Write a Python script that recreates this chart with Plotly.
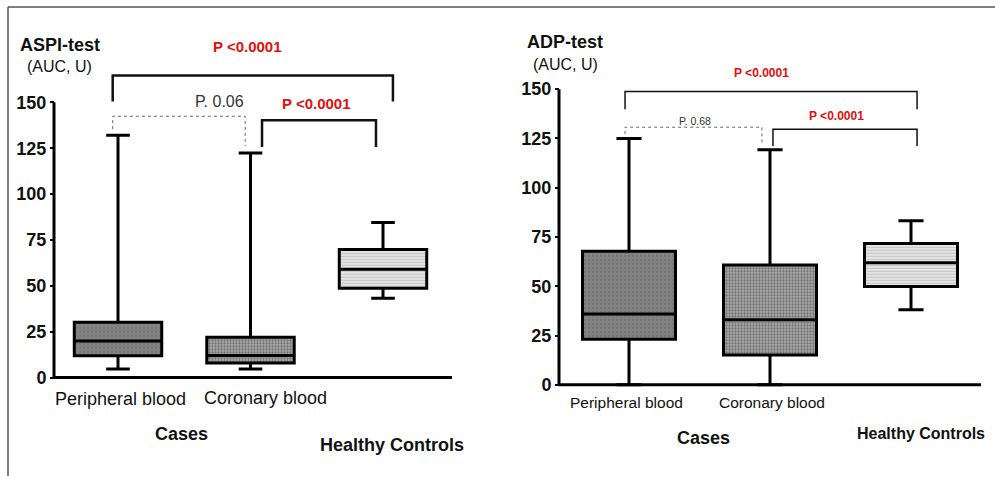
import plotly.graph_objects as go

W, H = 995, 479
FONT = "Liberation Sans, Arial, sans-serif"

# ---------------- data ----------------
groups = ["Peripheral blood", "Coronary blood", "Healthy Controls"]
xpos = [0, 1, 2]

aspi_lower = [4.7, 4.7, 43.3]
aspi_q1 = [11.9, 8.0, 48.7]
aspi_median = [19.9, 12.0, 59.0]
aspi_q3 = [30.2, 22.0, 69.8]
aspi_upper = [132.0, 122.4, 84.5]

adp_lower = [0.0, 0.0, 38.1]
adp_q1 = [23.2, 15.1, 49.9]
adp_median = [36.0, 33.0, 62.0]
adp_q3 = [67.8, 60.8, 71.7]
adp_upper = [125.0, 119.3, 83.2]

y_ticks = [0, 25, 50, 75, 100, 125, 150]

# comparison labels (text, x, y) and brackets (x_start, x_end, y_top, y_left_end, y_right_end)
aspi_pvals = [("P <0.0001", 0.974, 180.3, "red"), ("P. 0.06", 0.766, 150.5, "gray"),
              ("P <0.0001", 1.498, 149.4, "red")]
aspi_brackets = [(-0.04, 2.075, 164.6, 150.5, 150.5, "solid"),
                 (-0.04, 0.96, 142.4, 135.4, 126.2, "dot"),
                 (1.087, 1.947, 140.2, 125.6, 125.6, "solid")]
adp_pvals = [("P <0.0001", 0.943, 158.4, "red"), ("P. 0.68", 0.465, 133.7, "gray"),
             ("P <0.0001", 1.475, 136.3, "red")]
adp_brackets = [(-0.028, 2.043, 148.8, 139.8, 139.8, "solid"),
                (-0.028, 0.943, 130.7, 127.2, 122.1, "dot"),
                (1.021, 2.043, 129.7, 121.1, 121.1, "solid")]

# ---------------- layout geometry (pixels) ----------------
panels = [
    dict(cx0=118, step=132.5, y0=380, k=1.847, spine=54, end=452, area=(46, 460, 30, 388),
         xa="x", ya="y", lw=2.5, plw=1.0, pfs=15, gfs=16),
    dict(cx0=629, step=141, y0=387.3, k=1.984, spine=559, end=981, area=(551, 989, 30, 395),
         xa="x2", ya="y2", lw=1.5, plw=1.0, pfs=12, gfs=10.5),
]


def px2x(p, v):
    return (v - p["cx0"]) / p["step"]


def px2y(p, v):
    return (p["y0"] - v) / p["k"]


fig = go.Figure()

# box fill styles per group
fill_colors = ["#838383", "#b4b4b4", "#e4e4e4"]
pat_fg = ["#6a6a6a", "#2e2e2e", "#a4a4a4"]
pat_shape = [".", ".", "-"]
pat_size = [4, 3, 3]
pat_sol = [0.3, 0.5, 0.35]

datasets = [
    (aspi_lower, aspi_q1, aspi_median, aspi_q3, aspi_upper),
    (adp_lower, adp_q1, adp_median, adp_q3, adp_upper),
]

for p, (lo, q1, med, q3, up) in zip(panels, datasets):
    for g in range(3):
        fig.add_trace(go.Bar(
            x=[xpos[g]], y=[q3[g] - q1[g]], base=[q1[g]], width=0.66,
            xaxis=p["xa"], yaxis=p["ya"], hoverinfo="skip",
            marker=dict(color=fill_colors[g], line=dict(width=0),
                        pattern=dict(shape=pat_shape[g], fgcolor=pat_fg[g],
                                     size=pat_size[g], solidity=pat_sol[g],
                                     fillmode="overlay")),
        ))
    fig.add_trace(go.Box(
        x=xpos, q1=q1, median=med, q3=q3, lowerfence=lo, upperfence=up,
        width=0.66, whiskerwidth=0.27, boxpoints=False,
        fillcolor="rgba(0,0,0,0)", line=dict(color="black", width=3),
        xaxis=p["xa"], yaxis=p["ya"], hoverinfo="skip",
    ))

layout_axes = {}
for i, p in enumerate(panels):
    l, r, t, b = p["area"]
    xname = "xaxis" if i == 0 else "xaxis2"
    yname = "yaxis" if i == 0 else "yaxis2"
    layout_axes[xname] = dict(
        domain=[l / W, r / W], range=[px2x(p, l), px2x(p, r)], anchor=p["ya"],
        showgrid=False, zeroline=False, showline=False, showticklabels=False, ticks="",
        fixedrange=True,
    )
    layout_axes[yname] = dict(
        domain=[1 - b / H, 1 - t / H], range=[px2y(p, b), px2y(p, t)],
        anchor="free", position=p["spine"] / W,
        showgrid=False, zeroline=False, showline=False,
        tickmode="array", tickvals=y_ticks, ticks="outside", ticklen=4, tickwidth=2,
        tickcolor="black",
        tickfont=dict(family=FONT, size=18, color="#111", weight="bold"), fixedrange=True,
    )
    # spines
    xs = px2x(p, p["spine"])
    xe = px2x(p, p["end"])
    fig.add_shape(type="line", xref=p["xa"], yref=p["ya"], x0=xs, x1=xs, y0=0, y1=150,
                  line=dict(color="black", width=3))
    fig.add_shape(type="line", xref=p["xa"], yref=p["ya"], x0=xs, x1=xe, y0=0, y1=0,
                  line=dict(color="black", width=3))

for p, brs, pvs in [(panels[0], aspi_brackets, aspi_pvals), (panels[1], adp_brackets, adp_pvals)]:
    for (x0, x1, yt, yl, yr, dash) in brs:
        path = f"M {x0},{yl} L {x0},{yt} L {x1},{yt} L {x1},{yr}"
        if dash == "solid":
            line = dict(color="#111", width=p["lw"])
        else:
            line = dict(color="#666", width=p["plw"], dash="dot")
        fig.add_shape(type="path", path=path, xref=p["xa"], yref=p["ya"], line=line)
    for (txt, x, y, c) in pvs:
        if c == "red":
            font = dict(family=FONT, size=p["pfs"], color="#e01010", weight="bold")
        else:
            font = dict(family=FONT, size=p["gfs"], color="#333")
        fig.add_annotation(text=txt, x=x, y=y, xref=p["xa"], yref=p["ya"], showarrow=False,
                           font=font, xanchor="center", yanchor="middle")

# paper-positioned labels (pixel centre -> paper)
labels = [
    ("<b>ASPI-test</b>", 60, 45, 18), ("(AUC, U)", 59.5, 67, 16),
    ("<b>ADP-test</b>", 564.5, 42, 18), ("(AUC, U)", 565, 65, 16),
    ("Peripheral blood", 120.5, 402, 18), ("Coronary blood", 265.5, 401, 18),
    ("<b>Cases</b>", 181, 437, 18), ("<b>Healthy Controls</b>", 391.5, 448, 18),
    ("Peripheral blood", 626, 405, 15.5), ("Coronary blood", 771.5, 405, 15.5),
    ("<b>Cases</b>", 703.5, 441, 18), ("<b>Healthy Controls</b>", 921, 436, 16),
]
for txt, cx, cy, fs in labels:
    fig.add_annotation(text=txt, x=cx / W, y=1 - cy / H, xref="paper", yref="paper",
                       showarrow=False, xanchor="center", yanchor="middle",
                       font=dict(family=FONT, size=fs, color="#111"))

# outer frame (top and left edges)
fig.add_shape(type="line", xref="paper", yref="paper", x0=8 / W, x1=1, y0=1 - 7 / H, y1=1 - 7 / H,
              line=dict(color="#555", width=1.5))
fig.add_shape(type="line", xref="paper", yref="paper", x0=8 / W, x1=8 / W, y0=0, y1=1 - 7 / H,
              line=dict(color="#555", width=1.5))

fig.update_layout(
    width=W, height=H, margin=dict(l=0, r=0, t=0, b=0),
    paper_bgcolor="white", plot_bgcolor="rgba(0,0,0,0)",
    showlegend=False, barmode="overlay",
    **layout_axes,
)

fig.write_html("out.html")
